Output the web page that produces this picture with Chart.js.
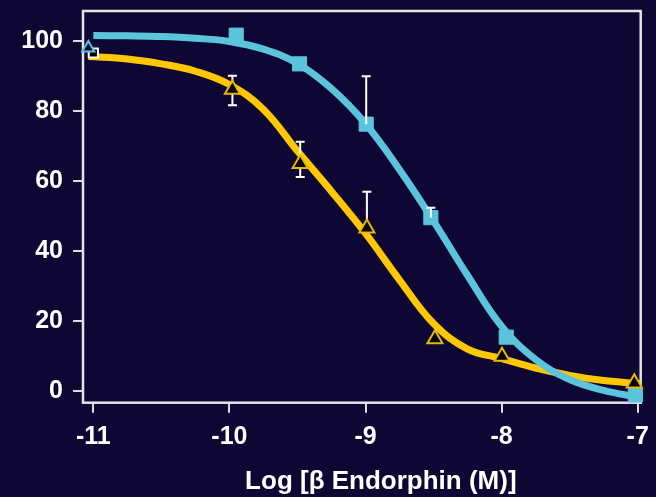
<!DOCTYPE html>
<html>
<head>
<meta charset="utf-8">
<script src="https://cdn.jsdelivr.net/npm/chart.js@4"></script>
<style>
    html, body { margin: 0; padding: 0; background: #0f0733; }
    #wrap { width: 656px; height: 497px; }
</style>
</head>
<body>
<div id="wrap"><canvas id="chart"></canvas></div>
<script>
// Axis ticks
const xTicks = [-11, -10, -9, -8, -7];
const yTicks = [0, 20, 40, 60, 80, 100];
const xTitle = 'Log [\u03B2 Endorphin (M)]';

// Measured points (log M, % response)
const cyanX = [-11, -9.95, -9.485, -8.995, -8.52, -7.966, -7.017];
const cyanY = [96.5, 101.6, 93.4, 76.2, 49.5, 15.4, -1.1];
const cyanErrHigh = [null, null, null, 89.9, 52.3, null, null];
const cyanErrLow = [null, null, null, null, null, null, null];

const yellowX = [-11.037, -9.978, -9.48, -8.99, -8.49, -7.997, -7.025];
const yellowY = [97.9, 86.1, 64.9, 46.5, 14.9, 9.9, 2.3];
const yellowErrHigh = [null, 90.0, 71.2, 56.9, null, null, null];
const yellowErrLow = [null, 81.6, 61.1, null, null, null, null];

// Fitted curves
const fitX = [-11, -10.75, -10.5, -10.25, -10, -9.75, -9.5, -9.25, -9, -8.75, -8.5, -8.25, -8, -7.75, -7.5, -7.25, -7, -6.98];
const cyanFit = [101.5, 101.4, 101.2, 100.7, 99.8, 97.6, 93.5, 86.3, 76.3, 63.2, 48.5, 33, 18.5, 9, 3.3, 0.2, -1.7, -1.8];
const yellowFit = [95.5, 94.8, 93.4, 91.3, 87.5, 80.4, 68.5, 57, 45, 31.7, 19.3, 12, 9.3, 6.6, 4.5, 3.0, 2.2, 2.2];

const CYAN = '#5bc4dc';
const YELLOW = '#ffc800';
const FONT = 'Liberation Sans, Arial, sans-serif';

function toPoints(xs, ys) {
    return xs.map((x, i) => ({ x: x, y: ys[i] }));
}

// Frame around the plot area
const framePlugin = {
    id: 'frame',
    beforeDatasetsDraw(chart) {
        const a = chart.chartArea;
        const ctx = chart.ctx;
        ctx.save();
        ctx.strokeStyle = '#e4e4e4';
        ctx.lineWidth = 2.5;
        ctx.strokeRect(a.left, a.top, a.right - a.left, a.bottom - a.top);
        ctx.restore();
    }
};

// Error bars, drawn before the triangles
const errorBarPlugin = {
    id: 'errorBars',
    beforeDatasetDraw(chart, args) {
        if (args.index !== 0) return;
        const xs = chart.scales.x;
        const ys = chart.scales.y;
        const ctx = chart.ctx;
        const bars = [
            [cyanX, cyanY, cyanErrHigh, cyanErrLow],
            [yellowX, yellowY, yellowErrHigh, yellowErrLow]
        ];
        ctx.save();
        ctx.strokeStyle = '#ffffff';
        ctx.lineWidth = 2;
        bars.forEach(([bx, by, hi, lo]) => {
            bx.forEach((x, i) => {
                const px = xs.getPixelForValue(x);
                const py = ys.getPixelForValue(by[i]);
                [hi[i], lo[i]].forEach(v => {
                    if (v === null) return;
                    const pe = ys.getPixelForValue(v);
                    ctx.beginPath();
                    ctx.moveTo(px, py);
                    ctx.lineTo(px, pe);
                    ctx.moveTo(px - 4.5, pe);
                    ctx.lineTo(px + 4.5, pe);
                    ctx.stroke();
                });
            });
        });
        ctx.restore();
    }
};

// X axis title, drawn by hand so it can sit off-centre like the original
const xTitlePlugin = {
    id: 'xTitle',
    afterDraw(chart) {
        const a = chart.chartArea;
        const ctx = chart.ctx;
        ctx.save();
        ctx.fillStyle = '#ffffff';
        ctx.font = 'bold 26px ' + FONT;
        ctx.textAlign = 'center';
        ctx.textBaseline = 'alphabetic';
        ctx.fillText(xTitle, (a.left + a.right) / 2 + 19, a.bottom + 86);
        ctx.restore();
    }
};

const tickFont = { family: FONT, size: 25, weight: 'bold' };

new Chart(document.getElementById('chart'), {
    type: 'line',
    data: {
        datasets: [
            {
                label: 'yellow points',
                data: toPoints(yellowX, yellowY),
                showLine: false,
                pointStyle: 'triangle',
                pointRadius: ctx => ctx.dataIndex === 0 ? 7 : 8.7,
                pointBorderWidth: 2,
                pointBackgroundColor: ctx => ctx.dataIndex === 0 ? '#0f0733' : '#000000',
                pointBorderColor: ctx => ctx.dataIndex === 0 ? CYAN : '#e8b800',
                clip: false
            },
            {
                label: 'cyan points',
                data: toPoints(cyanX, cyanY),
                showLine: false,
                pointStyle: 'rect',
                pointRadius: ctx => ctx.dataIndex === 0 ? 6.5 : 10,
                pointBorderWidth: ctx => ctx.dataIndex === 0 ? 2 : 1,
                pointBackgroundColor: ctx => ctx.dataIndex === 0 ? '#000000' : CYAN,
                pointBorderColor: ctx => ctx.dataIndex === 0 ? '#ffffff' : CYAN,
                clip: false
            },
            {
                label: 'cyan fit',
                data: toPoints(fitX, cyanFit),
                borderColor: CYAN,
                borderWidth: 7,
                pointRadius: 0,
                tension: 0.4
            },
            {
                label: 'yellow fit',
                data: toPoints([-11.035].concat(fitX.slice(1)), yellowFit),
                borderColor: YELLOW,
                borderWidth: 7,
                pointRadius: 0,
                tension: 0.4
            }
        ]
    },
    options: {
        responsive: true,
        maintainAspectRatio: false,
        animation: false,
        layout: { padding: { top: 7.5, right: 15.3, left: 0, bottom: 0 } },
        plugins: {
            legend: { display: false },
            tooltip: { enabled: false }
        },
        scales: {
            x: {
                type: 'linear',
                min: -11.076,
                max: -6.978,
                afterBuildTicks: scale => { scale.ticks = xTicks.map(v => ({ value: v })); },
                afterFit: scale => {
                    scale.height = 94.3;
                    scale.paddingLeft = 0;
                    scale.paddingRight = 0;
                },
                grid: { drawOnChartArea: false, drawTicks: true, tickLength: 10, color: '#dddddd', lineWidth: 2 },
                border: { display: false },
                ticks: { color: '#ffffff', font: tickFont, padding: 9, maxRotation: 0 }
            },
            y: {
                type: 'linear',
                min: -3.31,
                max: 108.49,
                afterBuildTicks: scale => { scale.ticks = yTicks.map(v => ({ value: v })); },
                afterFit: scale => {
                    scale.width = 83;
                    scale.paddingTop = 0;
                    scale.paddingBottom = 0;
                },
                grid: { drawOnChartArea: false, drawTicks: true, tickLength: 10, color: '#dddddd', lineWidth: 2 },
                border: { display: false },
                ticks: { color: '#ffffff', font: tickFont, padding: 10 }
            }
        }
    },
    plugins: [framePlugin, errorBarPlugin, xTitlePlugin]
});
</script>
</body>
</html>
